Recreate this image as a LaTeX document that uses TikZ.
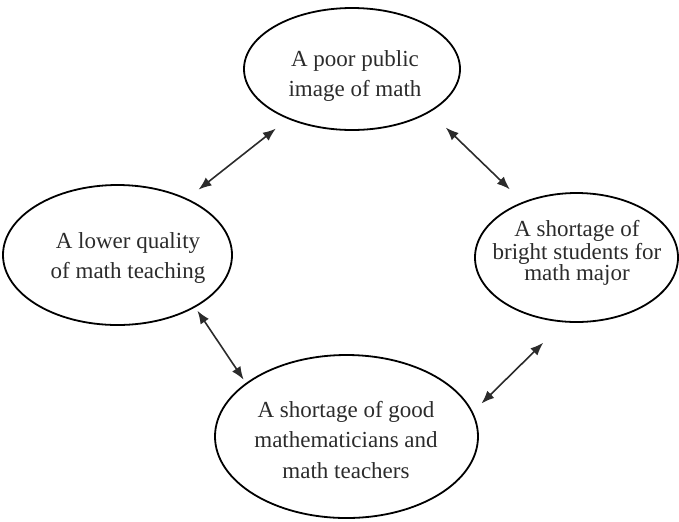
\documentclass[tikz,border=0pt]{standalone}
\usepackage{fontspec}
\setmainfont{Liberation Serif}
\usetikzlibrary{positioning,shapes.geometric,arrows.meta}
\definecolor{inkgray}{HTML}{2B2B2B}
\tikzset{
    % hand drawn bubbles of the cycle
    problem/.style={draw=black, ellipse, line width=0.9pt, inner sep=0pt},
    % text inside a bubble
    blurb/.style={align=center, text=inkgray, inner sep=0pt,
                  font=\fontsize{11.5}{15}\selectfont},
    % two way arrows between bubbles
    link/.style={{Latex[length=6.5pt,width=5pt]}-{Latex[length=6.5pt,width=5pt]},
                 draw=inkgray, line width=0.8pt}
}
\begin{document}
\begin{tikzpicture}[x=0.5pt,y=-0.5pt]
    \useasboundingbox (0,0) rectangle (679,521);

    % Bubbles
    \node[problem, minimum width=108pt, minimum height=61pt] (T) at (352,69) {};
    \node[problem, minimum width=114.5pt, minimum height=70pt] (L) at (117.5,255) {};
    \node[problem, minimum width=101.5pt, minimum height=64.5pt] (R) at (576.5,257.5) {};
    \node[problem, minimum width=131.5pt, minimum height=81.5pt] (B) at (346.5,436.5) {};

    % Texts
    \node[blurb] (Ttext) at (355,76) {A poor public\\image of math};
    \node[blurb] (Ltext) at (128,258) {A lower quality\\of math teaching};
    \node[blurb, font=\fontsize{11.5}{10.5}\selectfont] (Rtext) at (577,252.5)
        {A shortage of\\bright students for\\math major};
    \node[blurb] (Btext) at (346,440) {A shortage of good\\mathematicians and\\math teachers};

    % Arrows
    \draw[link, shorten <=7.7pt, shorten >=7.2pt] (T.218) -- (L.39);
    \draw[link, shorten <=11pt, shorten >=9pt] (T.331) -- (R.134);
    \draw[link, shorten <=2pt, shorten >=2pt] (L.326) -- (B.152);
    \draw[link, shorten <=14.5pt, shorten >=6pt] (R.259) -- (B.11);
\end{tikzpicture}
\end{document}
